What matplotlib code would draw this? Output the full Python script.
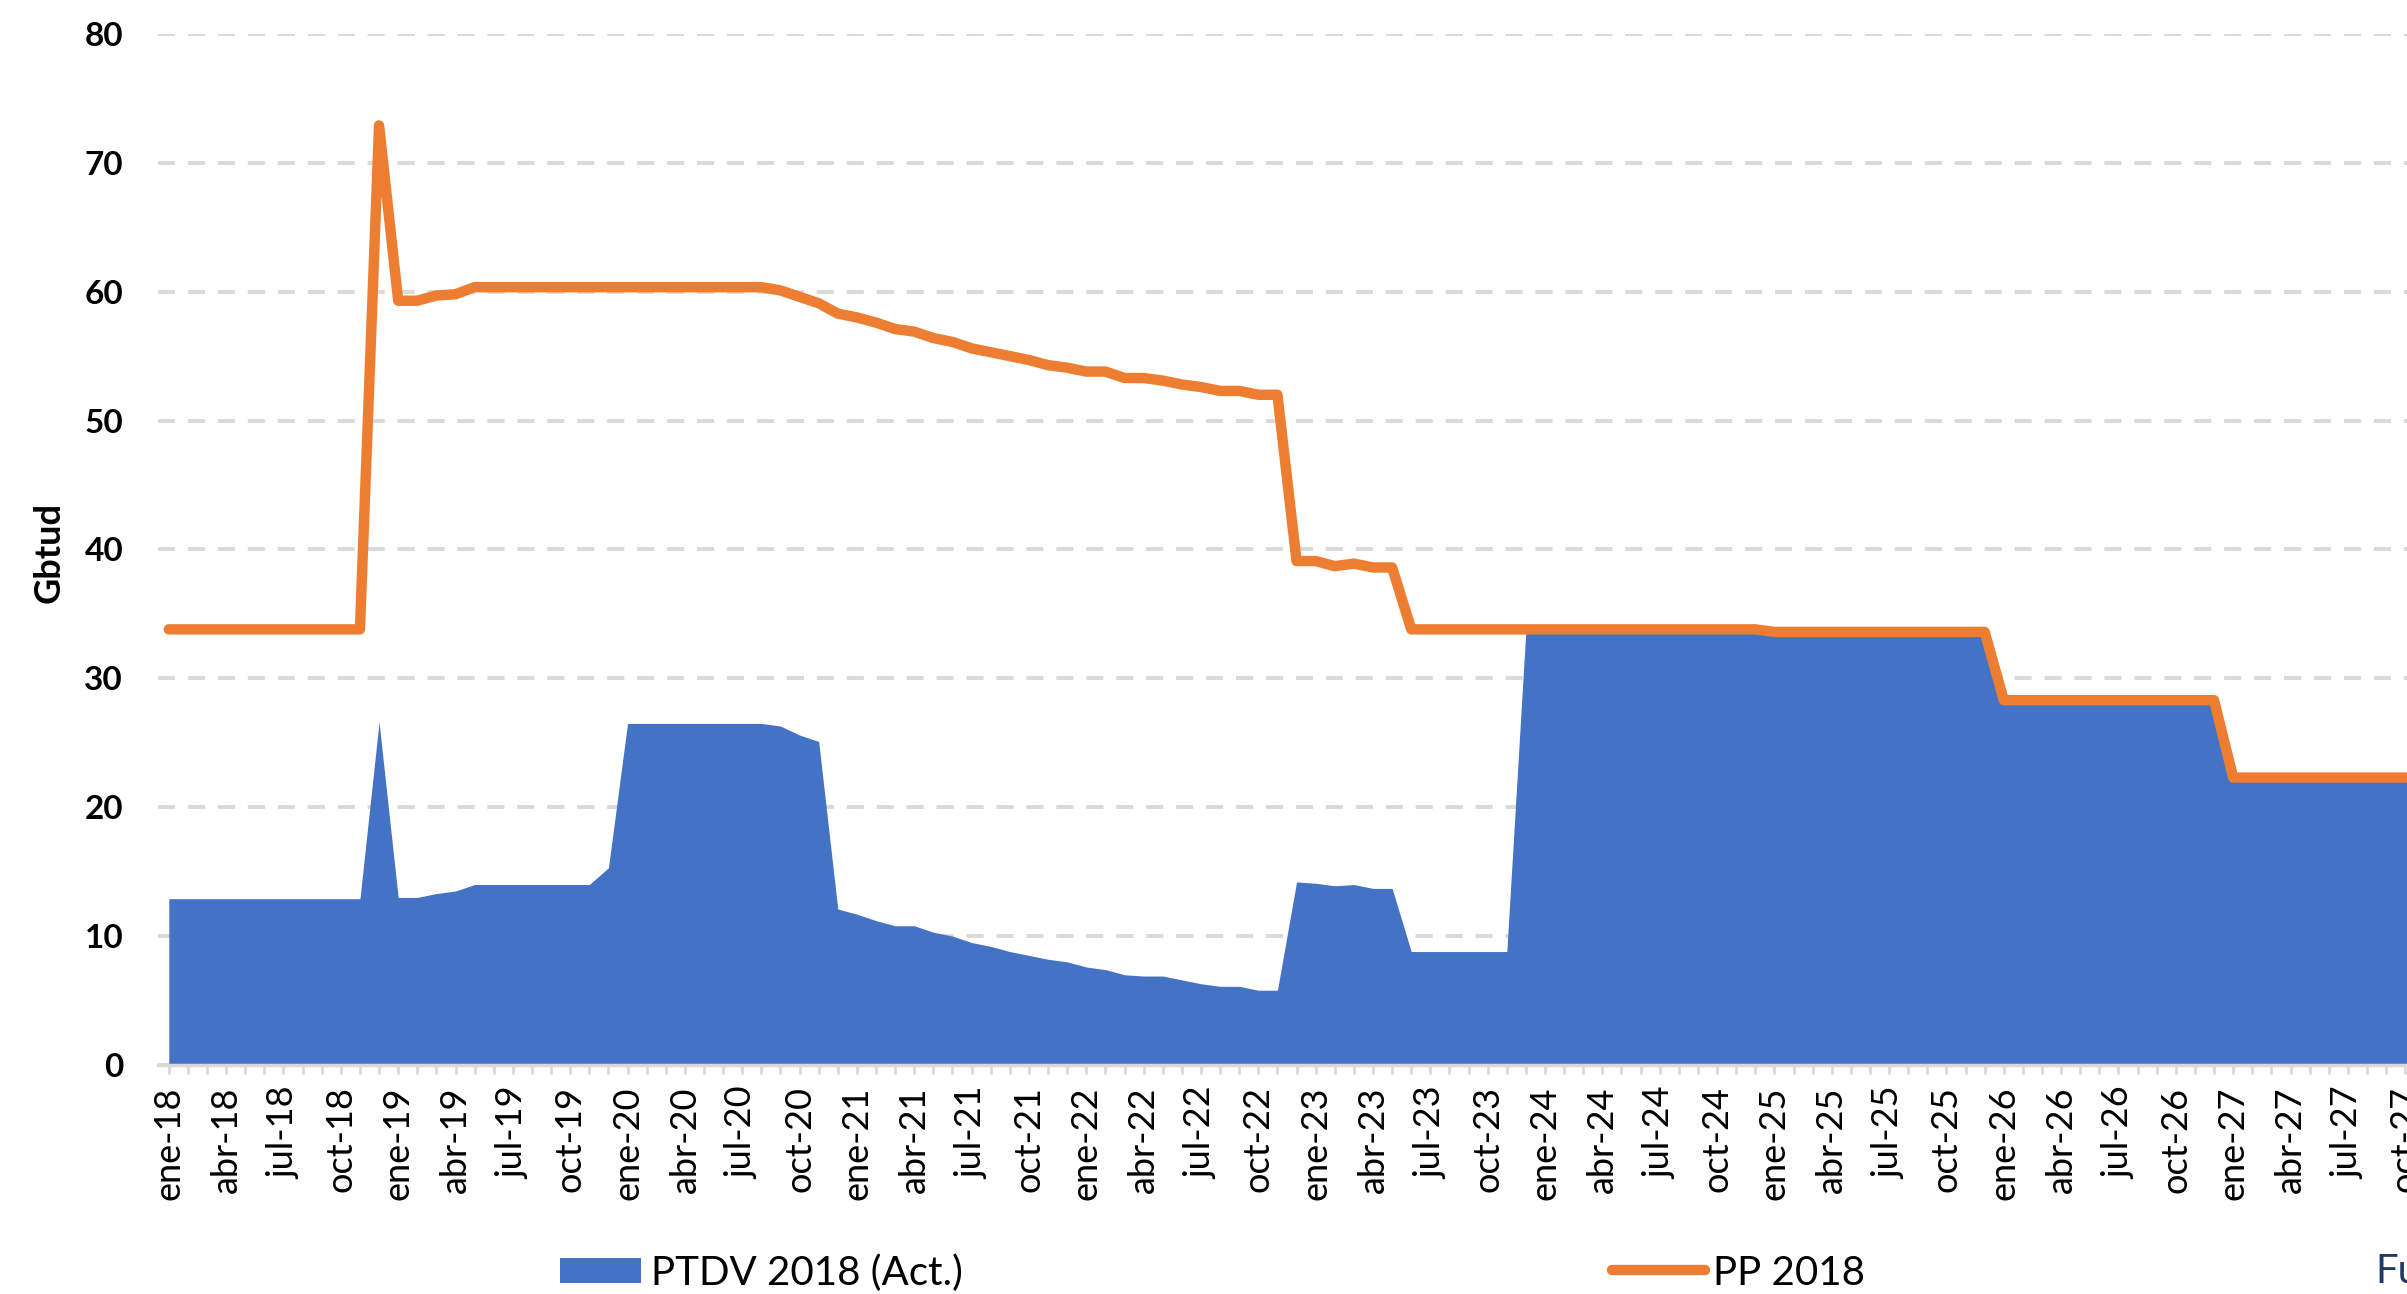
import matplotlib
matplotlib.use("Agg")
import matplotlib.pyplot as plt
from matplotlib.patches import Patch
from matplotlib.lines import Line2D
from matplotlib.ticker import FixedLocator, MultipleLocator

plt.rcParams['font.family'] = ['Lato', 'DejaVu Sans']

# monthly series, ene-18 .. dic-27
month_names = ['ene', 'feb', 'mar', 'abr', 'may', 'jun', 'jul', 'ago', 'sep', 'oct', 'nov', 'dic']
years = ['18', '19', '20', '21', '22', '23', '24', '25', '26', '27']

pp_2018 = [
    33.8, 33.8, 33.8, 33.8, 33.8, 33.8, 33.8, 33.8, 33.8, 33.8, 33.8, 72.9,
    59.3, 59.3, 59.7, 59.8, 60.35, 60.35, 60.35, 60.35, 60.35, 60.35, 60.35, 60.35,
    60.35, 60.35, 60.35, 60.35, 60.35, 60.35, 60.35, 60.35, 60.1, 59.6, 59.1, 58.3,
    58.0, 57.6, 57.1, 56.9, 56.4, 56.1, 55.6, 55.3, 55.0, 54.7, 54.3, 54.1,
    53.8, 53.8, 53.3, 53.3, 53.1, 52.8, 52.6, 52.3, 52.3, 52.0, 52.0, 39.1,
    39.1, 38.7, 38.9, 38.6, 38.6, 33.8, 33.8, 33.8, 33.8, 33.8, 33.8, 33.8,
    33.8, 33.8, 33.8, 33.8, 33.8, 33.8, 33.8, 33.8, 33.8, 33.8, 33.8, 33.8,
    33.6, 33.6, 33.6, 33.6, 33.6, 33.6, 33.6, 33.6, 33.6, 33.6, 33.6, 33.6,
    28.3, 28.3, 28.3, 28.3, 28.3, 28.3, 28.3, 28.3, 28.3, 28.3, 28.3, 28.3,
    22.3, 22.3, 22.3, 22.3, 22.3, 22.3, 22.3, 22.3, 22.3, 22.3, 22.3, 22.3,
]

ptdv_2018 = [
    12.9, 12.9, 12.9, 12.9, 12.9, 12.9, 12.9, 12.9, 12.9, 12.9, 12.9, 26.6,
    13.0, 13.0, 13.3, 13.5, 14.0, 14.0, 14.0, 14.0, 14.0, 14.0, 14.0, 15.3,
    26.5, 26.5, 26.5, 26.5, 26.5, 26.5, 26.5, 26.5, 26.3, 25.6, 25.1, 12.1,
    11.7, 11.2, 10.8, 10.8, 10.3, 10.0, 9.5, 9.2, 8.8, 8.5, 8.2, 8.0,
    7.6, 7.4, 7.0, 6.9, 6.9, 6.6, 6.3, 6.1, 6.1, 5.8, 5.8, 14.2,
    14.1, 13.9, 14.0, 13.7, 13.7, 8.8, 8.8, 8.8, 8.8, 8.8, 8.8, 33.8,
    33.8, 33.8, 33.8, 33.8, 33.8, 33.8, 33.8, 33.8, 33.8, 33.8, 33.8, 33.8,
    33.6, 33.6, 33.6, 33.6, 33.6, 33.6, 33.6, 33.6, 33.6, 33.6, 33.6, 33.6,
    28.3, 28.3, 28.3, 28.3, 28.3, 28.3, 28.3, 28.3, 28.3, 28.3, 28.3, 28.3,
    22.3, 22.3, 22.3, 22.3, 22.3, 22.3, 22.3, 22.3, 22.3, 22.3, 22.3, 22.3,
]

labels = [m + '-' + y for y in years for m in month_names]
x = list(range(len(labels)))

blue = '#4472C4'
orange = '#ED7D31'
grid = '#D9D9D9'

fig = plt.figure(figsize=(24.07, 12.94), dpi=100)
# axes runs past the right edge, the source image is cropped there
ax = fig.add_axes([0.0656, 0.177, 0.9535, 0.7968])

ax.fill_between(x, 0, ptdv_2018, color=blue, linewidth=0, zorder=1)
ax.plot(x, pp_2018, color=orange, linewidth=7.5, solid_capstyle='round',
        solid_joinstyle='round', zorder=3)

ax.set_xlim(-0.57, 119.5)
ax.set_ylim(0, 80)
ax.set_yticks(range(0, 81, 10))

ax.set_axisbelow(True)
ax.yaxis.grid(True, color=grid, linewidth=2.8, dashes=(4.4, 3.3))

for s in ['top', 'right', 'left']:
    ax.spines[s].set_visible(False)
ax.spines['bottom'].set_color(grid)
ax.spines['bottom'].set_linewidth(2.5)

ax.xaxis.set_major_locator(FixedLocator(x[::3]))
ax.set_xticklabels(labels[::3], rotation=90, fontsize=26)
ax.xaxis.set_minor_locator(MultipleLocator(1))
ax.tick_params(axis='x', which='both', length=6.5, width=2, color=grid, pad=9)
ax.tick_params(axis='y', length=0, pad=25, labelsize=24)
for t in ax.get_yticklabels():
    t.set_fontweight('bold')

ax.set_ylabel('Gbtud', fontsize=26, fontweight='bold', va='center')
ax.yaxis.set_label_coords(-0.0475, 0.497)

leg1 = fig.legend(handles=[Patch(facecolor=blue)], labels=['PTDV 2018 (Act.)'],
                  loc='center left', bbox_to_anchor=(0.2327, 0.0162), frameon=False,
                  fontsize=29, handlelength=2.0, handleheight=0.6, handletextpad=0.25,
                  borderpad=0, borderaxespad=0)
leg2 = fig.legend(handles=[Line2D([0], [0], color=orange, linewidth=7.5,
                                  solid_capstyle='round')],
                  labels=['PP 2018'], loc='center left', bbox_to_anchor=(0.6697, 0.0162),
                  frameon=False, fontsize=29, handlelength=2.3, handletextpad=0.2,
                  borderpad=0, borderaxespad=0)

fig.text(0.9868, 0.003, 'Fuente', color='#1F3864', fontsize=29, va='bottom', ha='left')

fig.savefig('out.png', dpi=100)
